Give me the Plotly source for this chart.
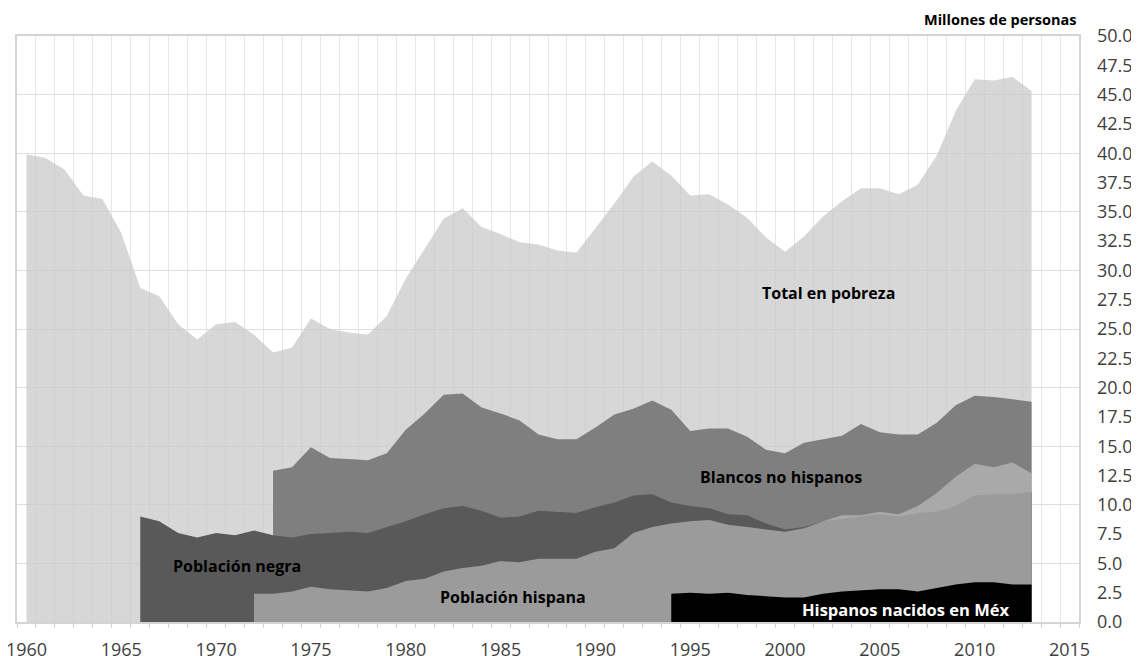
import plotly.graph_objects as go

years_total = list(range(1960, 2014))
total_pobreza = [39.9, 39.6, 38.6, 36.4, 36.1, 33.2, 28.5, 27.8, 25.4, 24.1,
                 25.4, 25.6, 24.5, 23.0, 23.4, 25.9, 25.0, 24.7, 24.5, 26.1,
                 29.3, 31.8, 34.4, 35.3, 33.7, 33.1, 32.4, 32.2, 31.7, 31.5,
                 33.6, 35.7, 38.0, 39.3, 38.1, 36.4, 36.5, 35.6, 34.5, 32.8,
                 31.6, 32.9, 34.6, 35.9, 37.0, 37.0, 36.5, 37.3, 39.8, 43.6,
                 46.3, 46.2, 46.5, 45.3]

years_blancos = list(range(1973, 2014))
blancos_no_hispanos = [12.9, 13.2, 14.9, 14.0, 13.9, 13.8, 14.4, 16.4, 17.8, 19.4,
                       19.5, 18.3, 17.8, 17.2, 16.0, 15.6, 15.6, 16.6, 17.7, 18.2,
                       18.9, 18.1, 16.3, 16.5, 16.5, 15.8, 14.7, 14.4, 15.3, 15.6,
                       15.9, 16.9, 16.2, 16.0, 16.0, 17.0, 18.5, 19.3, 19.2, 19.0,
                       18.8]

years_negra = list(range(1966, 2014))
poblacion_negra = [9.0, 8.6, 7.6, 7.2, 7.6, 7.4, 7.8, 7.4, 7.2, 7.5,
                   7.6, 7.7, 7.6, 8.1, 8.6, 9.2, 9.7, 9.9, 9.5, 8.9,
                   9.0, 9.5, 9.4, 9.3, 9.8, 10.2, 10.8, 10.9, 10.2, 9.9,
                   9.7, 9.2, 9.1, 8.4, 7.9, 8.1, 8.6, 8.8, 9.0, 9.2,
                   9.0, 9.3, 9.4, 9.9, 10.8, 10.9, 10.9, 11.1]

years_hispana = list(range(1972, 2014))
poblacion_hispana = [2.4, 2.4, 2.6, 3.0, 2.8, 2.7, 2.6, 2.9, 3.5, 3.7,
                     4.3, 4.6, 4.8, 5.2, 5.1, 5.4, 5.4, 5.4, 6.0, 6.3,
                     7.6, 8.1, 8.4, 8.6, 8.7, 8.3, 8.1, 7.9, 7.7, 8.0,
                     8.6, 9.1, 9.1, 9.4, 9.2, 9.9, 11.0, 12.4, 13.5, 13.2,
                     13.6, 12.7]

years_mex = list(range(1994, 2014))
hispanos_mex = [2.4, 2.5, 2.4, 2.5, 2.3, 2.2, 2.1, 2.1, 2.4, 2.6,
                2.7, 2.8, 2.8, 2.6, 2.9, 3.2, 3.4, 3.4, 3.2, 3.2]

x_tick_vals = list(range(1960, 2016, 5))
y_tick_vals = [i * 2.5 for i in range(21)]
y_tick_text = [f"{v:.1f}" for v in y_tick_vals]

TICK_FONT = "Open Sans"
LABEL_FONT = "Open Sans"

fig = go.Figure()

def area(x, y, color, name):
    fig.add_trace(go.Scatter(
        x=x, y=y, mode="lines", fill="tozeroy", name=name,
        line=dict(width=0, color=color), fillcolor=color,
        hoverinfo="skip", showlegend=False))

area(years_total, total_pobreza, "rgba(200,200,200,0.72)", "Total en pobreza")
area(years_blancos, blancos_no_hispanos, "#7f7f7f", "Blancos no hispanos")
area(years_negra, poblacion_negra, "#595959", "Población negra")
area(years_hispana, poblacion_hispana, "rgba(192,192,192,0.64)", "Población hispana")
area(years_mex, hispanos_mex, "#000000", "Hispanos nacidos en Méx")

# invisible trace to activate the right-hand label axis
fig.add_trace(go.Scatter(x=[years_total[0]], y=[total_pobreza[0]], yaxis="y2",
                         mode="markers", marker=dict(opacity=0),
                         hoverinfo="skip", showlegend=False))

label_font = dict(family=LABEL_FONT, size=16, color="#000000", weight="bold")
annots = [
    dict(text="Total en pobreza", x=2002.3, y=28.1),
    dict(text="Blancos no hispanos", x=1999.8, y=12.4),
    dict(text="Población negra", x=1971.1, y=4.8),
    dict(text="Población hispana", x=1985.65, y=2.16),
]
annotations = [dict(a, xref="x", yref="y", showarrow=False, font=label_font,
                    xanchor="center", yanchor="middle") for a in annots]
annotations.append(dict(text="Hispanos nacidos en Méx", x=2006.36, y=1.08,
                        xref="x", yref="y", showarrow=False,
                        font=dict(family=LABEL_FONT, size=16.5, color="#ffffff", weight="bold"),
                        xanchor="center", yanchor="middle"))
annotations.append(dict(text="Millones de personas", x=1, y=1, xref="paper", yref="paper",
                        xanchor="right", yanchor="middle", yshift=17, showarrow=False,
                        font=dict(family=LABEL_FONT, size=14.5, color="#000000", weight="bold")))

# page body has an 8px margin: figure sized/offset so the plot lands where the reference has it
fig.update_layout(
    template="none",
    width=1131, height=648,
    margin=dict(l=9, r=60, t=28, b=34, autoexpand=False),
    paper_bgcolor="white", plot_bgcolor="white",
    font=dict(family=TICK_FONT, color="#404040"),
    xaxis=dict(
        range=[1959.5, 2015.5], tickvals=x_tick_vals, automargin=False,
        tickfont=dict(family=TICK_FONT, size=18, color="#404040"),
        showgrid=False, zeroline=False, ticks="", ticklabelstandoff=10,
        ticklabeloverflow="allow",
        showline=True, linecolor="#d4d4d4", linewidth=2, mirror=True,
        minor=dict(tick0=1959.5, dtick=1, showgrid=True, gridcolor="#e6e6e6",
                   gridwidth=1, ticks="outside", ticklen=4, tickcolor="#d4d4d4"),
    ),
    yaxis=dict(
        range=[0, 50], dtick=5, tick0=0, showticklabels=False, automargin=False,
        showgrid=True, gridcolor="#dedede", gridwidth=1, zeroline=False,
        showline=True, linecolor="#d4d4d4", linewidth=2, mirror=True, ticks="",
    ),
    yaxis2=dict(
        range=[0, 50], overlaying="y", side="right", tickvals=y_tick_vals,
        ticktext=y_tick_text, showgrid=False, zeroline=False, ticks="",
        ticklabelstandoff=17, automargin=False, showline=False,
        ticklabeloverflow="allow",
        tickfont=dict(family=TICK_FONT, size=18, color="#404040"),
    ),
    annotations=annotations,
)

fig.write_html("out.html")
